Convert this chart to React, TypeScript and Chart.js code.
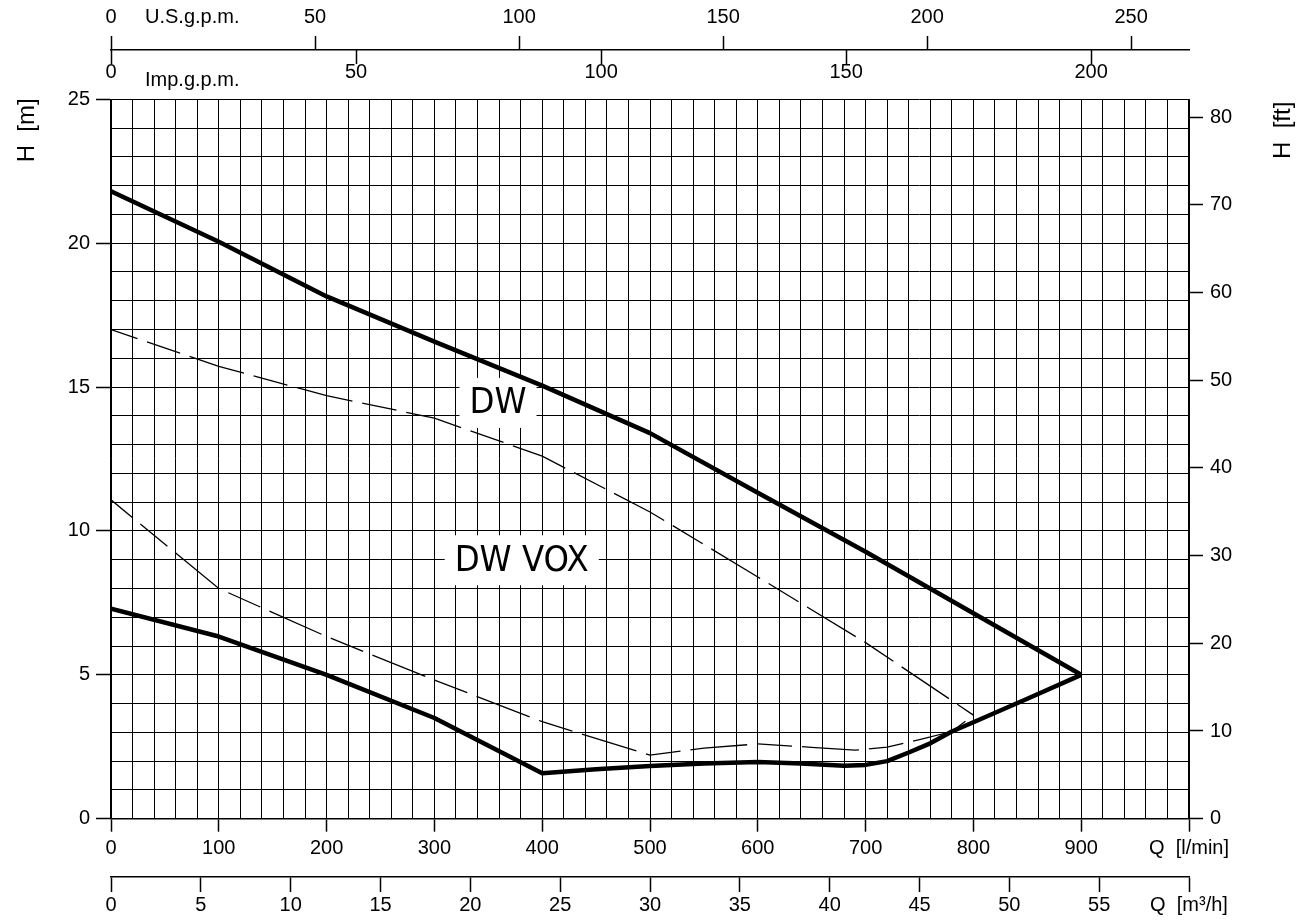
import { useEffect, useRef } from 'react';
import { Chart, registerables } from 'chart.js';

Chart.register(...registerables);

const FONT = "'Liberation Sans', Arial, sans-serif";
const BIG_FONT = "'DejaVu Sans Condensed', 'Liberation Sans', sans-serif";

// ---- data (Q in l/min, H in m) ----
const dwTopQ = [0, 100, 200, 300, 400, 500, 600, 700, 800, 900];
const dwTopH = [21.8, 20.05, 18.15, 16.58, 15.05, 13.4, 11.33, 9.28, 7.14, 5.0];

const dwLowQ = [0, 100, 200, 300, 400, 450, 500, 550, 600, 640, 680, 700, 720, 740, 760, 780, 800, 850, 900];
const dwLowH = [7.3, 6.33, 5.0, 3.5, 1.58, 1.72, 1.83, 1.92, 1.97, 1.92, 1.84, 1.87, 2.0, 2.3, 2.62, 3.03, 3.35, 4.17, 5.0];

const voxTopQ = [0, 100, 200, 300, 400, 500, 600, 700, 800];
const voxTopH = [17.0, 15.72, 14.7, 13.92, 12.6, 10.66, 8.4, 6.12, 3.6];

const voxLowQ = [0, 100, 200, 300, 400, 500, 550, 600, 650, 690, 720, 750, 780, 800];
const voxLowH = [11.08, 8.0, 6.33, 4.82, 3.37, 2.21, 2.45, 2.6, 2.48, 2.38, 2.49, 2.75, 3.03, 3.6];

// ---- axes / tick labels ----
const Q_MAX = 1000;
const H_MAX = 25;
const Q_STEP_GRID = 20;
const Q_LABEL_STEP = 100;
const H_STEP_GRID = 1;
const H_LABEL_STEP = 5;
const ftTicks = [0, 10, 20, 30, 40, 50, 60, 70, 80];
const usTicks = [0, 50, 100, 150, 200, 250];
const impTicks = [0, 50, 100, 150, 200];
const m3hTicks = [0, 5, 10, 15, 20, 25, 30, 35, 40, 45, 50, 55];
const qUnitLabel = 'Q  [l/min]';
const m3hUnitLabel = 'Q  [m³/h]';
const usUnitLabel = 'U.S.g.p.m.';
const impUnitLabel = 'Imp.g.p.m.';
const hmTitle = 'H  [m]';
const hftTitle = 'H  [ft]';

const FT_PER_M = 1 / 0.3048;
const L_PER_USGAL = 3.785411784;
const L_PER_IMPGAL = 4.54609;
const LMIN_PER_M3H = 1000 / 60;

const curveLabels = [
  { text: 'DW', q: 359, h: 14.45 },
  { text: 'DW VOX', q: 381, h: 8.98 },
];

const pts = (qs: number[], hs: number[]) => qs.map((q, i) => ({ x: q, y: hs[i] }));

const BLACK = '#000';
const hidden = 'rgba(0,0,0,0)';

const overlay = {
  id: 'overlay',
  beforeDatasetsDraw(chart: any) {
    const { ctx } = chart;
    const xs = chart.scales.x;
    const ys = chart.scales.y;
    ctx.save();
    ctx.font = `36px ${BIG_FONT}`;
    ctx.textAlign = 'center';
    ctx.textBaseline = 'middle';
    for (const lb of curveLabels) {
      const px = xs.getPixelForValue(lb.q);
      const py = ys.getPixelForValue(lb.h);
      const w = ctx.measureText(lb.text).width + 20;
      const h = 50;
      ctx.fillStyle = '#fff';
      ctx.fillRect(px - w / 2, py - h / 2, w, h);
      ctx.fillStyle = BLACK;
      ctx.fillText(lb.text, px, py + 1);
    }
    ctx.restore();
  },
  afterDraw(chart: any) {
    const { ctx } = chart;
    const imp = chart.scales.xImp;
    const us = chart.scales.xUS;
    ctx.save();
    // Imp.g.p.m. tick marks hang below the shared axis line
    ctx.strokeStyle = BLACK;
    ctx.lineWidth = 1.5;
    ctx.beginPath();
    for (const t of imp.ticks) {
      const px = Math.round(imp.getPixelForValue(t.value)) + 0.5;
      ctx.moveTo(px, imp.top);
      ctx.lineTo(px, imp.top + 14);
    }
    ctx.stroke();
    // unit names on the top axes
    ctx.fillStyle = BLACK;
    ctx.font = `20px ${FONT}`;
    ctx.textAlign = 'left';
    ctx.textBaseline = 'middle';
    ctx.fillText(usUnitLabel, us.left + 34, us.top + 17);
    ctx.fillText(impUnitLabel, imp.left + 34, imp.top + 30);
    // rotated axis titles
    ctx.font = `24px ${FONT}`;
    ctx.textAlign = 'center';
    const drawRot = (text: string, x: number, y: number) => {
      ctx.save();
      ctx.translate(x, y);
      ctx.rotate(-Math.PI / 2);
      ctx.fillText(text, 0, 0);
      ctx.restore();
    };
    drawRot(hmTitle, 27, chart.chartArea.top + 31);
    drawRot(hftTitle, chart.width - 33, chart.chartArea.top + 31);
    ctx.restore();
  },
};

export default function App() {
  const ref = useRef<HTMLCanvasElement>(null);

  useEffect(() => {
    document.body.style.margin = '0';
    document.body.style.overflow = 'hidden';
    const tickFont = { family: FONT, size: 20 };

    const thick = { borderColor: BLACK, borderWidth: 4.5, pointRadius: 0, showLine: true, tension: 0, borderJoinStyle: 'round' as const };
    const dashed = { borderColor: BLACK, borderWidth: 1.3, pointRadius: 0, showLine: true, tension: 0, borderDash: [57, 10, 35, 10], borderDashOffset: 29 };

    const chart = new Chart(ref.current!, {
      type: 'scatter',
      data: {
        datasets: [
          { label: 'DW VOX upper', data: pts(voxTopQ, voxTopH), ...dashed },
          { label: 'DW VOX lower', data: pts(voxLowQ, voxLowH), ...dashed },
          { label: 'DW', data: pts(dwTopQ, dwTopH), ...thick },
          { label: 'DW lower', data: pts(dwLowQ, dwLowH), ...thick },
        ],
      },
      options: {
        animation: false,
        responsive: true,
        maintainAspectRatio: false,
        events: [],
        layout: { padding: 0 },
        plugins: { legend: { display: false }, tooltip: { enabled: false } },
        scales: {
          x: {
            type: 'linear', position: 'bottom', weight: 0, min: 0, max: Q_MAX, bounds: 'data',
            ticks: {
              stepSize: Q_STEP_GRID, autoSkip: false, maxRotation: 0, minRotation: 0, padding: 5, color: BLACK, font: tickFont,
              callback: (v: any) => (v === Q_MAX ? qUnitLabel : v % Q_LABEL_STEP === 0 ? String(v) : ''),
            },
            grid: {
              color: BLACK, lineWidth: 1, tickLength: 13, tickWidth: 1.5,
              tickColor: (c: any) => (c.tick && c.tick.value % Q_LABEL_STEP === 0 ? BLACK : hidden),
            },
            border: { display: true, color: BLACK, width: 1.5 },
            afterFit: (s: any) => { s.height = 58.3; },
          },
          xM3: {
            type: 'linear', position: 'bottom', weight: 1, min: 0, max: Q_MAX / LMIN_PER_M3H, bounds: 'data',
            afterBuildTicks: (s: any) => { s.ticks = [...m3hTicks, Q_MAX / LMIN_PER_M3H].map((v) => ({ value: v })); },
            ticks: {
              autoSkip: false, maxRotation: 0, minRotation: 0, padding: 1.5, color: BLACK, font: tickFont,
              callback: (v: any) => (Math.abs(v - Q_MAX / LMIN_PER_M3H) < 1e-6 ? m3hUnitLabel : String(v)),
            },
            grid: { drawOnChartArea: false, tickLength: 15, tickWidth: 1.5, tickColor: BLACK },
            border: { display: true, color: BLACK, width: 1.5 },
            afterFit: (s: any) => { s.height = 43; },
          },
          xImp: {
            type: 'linear', position: 'top', weight: 0, min: 0, max: Q_MAX / L_PER_IMPGAL, bounds: 'data',
            afterBuildTicks: (s: any) => { s.ticks = impTicks.map((v) => ({ value: v })); },
            ticks: { autoSkip: false, maxRotation: 0, minRotation: 0, padding: 7.3, color: BLACK, font: tickFont },
            grid: { display: false },
            border: { display: false },
            afterFit: (s: any) => { s.height = 49.3; },
          },
          xUS: {
            type: 'linear', position: 'top', weight: 1, min: 0, max: Q_MAX / L_PER_USGAL, bounds: 'data',
            afterBuildTicks: (s: any) => { s.ticks = usTicks.map((v) => ({ value: v })); },
            ticks: { autoSkip: false, maxRotation: 0, minRotation: 0, padding: 7, color: BLACK, font: tickFont },
            grid: { drawOnChartArea: false, tickLength: 14, tickWidth: 1.5, tickColor: BLACK },
            border: { display: true, color: BLACK, width: 1.5 },
            afterFit: (s: any) => { s.height = 50; },
          },
          y: {
            type: 'linear', position: 'left', min: 0, max: H_MAX, bounds: 'data',
            ticks: {
              stepSize: H_STEP_GRID, autoSkip: false, padding: 6, color: BLACK, font: tickFont,
              callback: (v: any) => (v % H_LABEL_STEP === 0 ? String(v) : ''),
            },
            grid: {
              color: BLACK, lineWidth: 1, tickLength: 15, tickWidth: 1.5,
              tickColor: (c: any) => (c.tick && c.tick.value % H_LABEL_STEP === 0 ? BLACK : hidden),
            },
            border: { display: true, color: BLACK, width: 1.5 },
            afterFit: (s: any) => { s.width = 111; },
          },
          yFt: {
            type: 'linear', position: 'right', min: 0, max: H_MAX * FT_PER_M, bounds: 'data',
            afterBuildTicks: (s: any) => { s.ticks = ftTicks.map((v) => ({ value: v })); },
            ticks: { autoSkip: false, padding: 7, color: BLACK, font: tickFont },
            grid: { drawOnChartArea: false, tickLength: 14, tickWidth: 1.5, tickColor: BLACK },
            border: { display: true, color: BLACK, width: 1.5 },
            afterFit: (s: any) => { s.width = 127; },
          },
        },
      } as any,
      plugins: [overlay],
    });
    return () => chart.destroy();
  }, []);

  return (
    <div style={{ position: 'absolute', left: 0, top: 0, width: 1316, height: 920, background: '#fff' }}>
      <canvas ref={ref} />
    </div>
  );
}
